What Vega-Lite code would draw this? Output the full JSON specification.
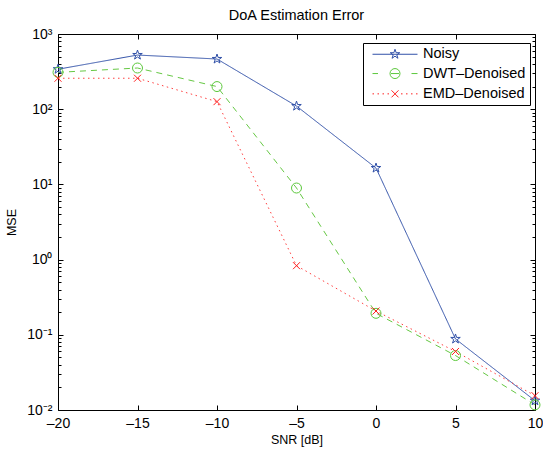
{
  "$schema": "https://vega.github.io/schema/vega-lite/v6.json",
  "width": 477,
  "height": 376,
  "autosize": {"type": "none"},
  "padding": {"left": 58, "top": 34, "right": 8, "bottom": 39},
  "background": "white",
  "config": {
    "view": {"stroke": null},
    "font": "Liberation Sans",
    "axis": {"domainColor": "black", "tickColor": "black", "labelColor": "black", "titleColor": "black", "grid": false, "labelFont": "Liberation Sans", "titleFont": "Liberation Sans", "titleFontWeight": "normal", "domainWidth": 1, "tickWidth": 1, "labelOverlap": false, "labelFlush": false}
  },
  "title": {"text": "DoA Estimation Error", "fontSize": 14.5, "fontWeight": "normal", "font": "Liberation Sans", "color": "black", "offset": 12, "dy": 19, "baseline": "alphabetic", "anchor": "middle", "frame": "group"},
  "data": {"values": [
    {"snr": -20, "mse": 340, "series": "Noisy"},
    {"snr": -15, "mse": 525, "series": "Noisy"},
    {"snr": -10, "mse": 465, "series": "Noisy"},
    {"snr": -5, "mse": 110, "series": "Noisy"},
    {"snr": 0, "mse": 16.5, "series": "Noisy"},
    {"snr": 5, "mse": 0.088, "series": "Noisy"},
    {"snr": 10, "mse": 0.0133, "series": "Noisy"},
    {"snr": -20, "mse": 309, "series": "DWT–Denoised"},
    {"snr": -15, "mse": 353, "series": "DWT–Denoised"},
    {"snr": -10, "mse": 200, "series": "DWT–Denoised"},
    {"snr": -5, "mse": 8.95, "series": "DWT–Denoised"},
    {"snr": 0, "mse": 0.193, "series": "DWT–Denoised"},
    {"snr": 5, "mse": 0.053, "series": "DWT–Denoised"},
    {"snr": 10, "mse": 0.0117, "series": "DWT–Denoised"},
    {"snr": -20, "mse": 258, "series": "EMD–Denoised"},
    {"snr": -15, "mse": 258, "series": "EMD–Denoised"},
    {"snr": -10, "mse": 126, "series": "EMD–Denoised"},
    {"snr": -5, "mse": 0.83, "series": "EMD–Denoised"},
    {"snr": 0, "mse": 0.207, "series": "EMD–Denoised"},
    {"snr": 5, "mse": 0.06, "series": "EMD–Denoised"},
    {"snr": 10, "mse": 0.0155, "series": "EMD–Denoised"}
  ]},
  "resolve": {"scale": {"color": "independent", "shape": "independent", "strokeDash": "independent"}, "axis": {"x": "independent", "y": "independent"}},
  "layer": [
    {
      "mark": {"type": "line", "strokeWidth": 1},
      "encoding": {
        "x": {"field": "snr", "type": "quantitative", "scale": {"domain": [-20, 10], "nice": false, "zero": false},
          "axis": {"orient": "bottom", "values": [-20, -15, -10, -5, 0, 5, 10], "tickSize": -5, "labelPadding": 11, "labelFontSize": 14, "labelExpr": "replace(datum.label, '−', '–')", "title": "SNR [dB]", "titleFontSize": 12.5, "titleY": 23, "titleBaseline": "top", "titleAlign": "center"}},
        "y": {"field": "mse", "type": "quantitative", "scale": {"type": "log", "domain": [0.01, 1000], "nice": false},
          "axis": {"orient": "left", "values": [0.01, 0.02, 0.03, 0.04, 0.05, 0.06, 0.07, 0.08, 0.09, 0.1, 0.2, 0.3, 0.4, 0.5, 0.6, 0.7, 0.8, 0.9, 1, 2, 3, 4, 5, 6, 7, 8, 9, 10, 20, 30, 40, 50, 60, 70, 80, 90, 100, 200, 300, 400, 500, 600, 700, 800, 900, 1000],
            "tickSize": {"condition": {"test": "abs(log(datum.value)/LN10 - round(log(datum.value)/LN10)) < 0.001", "value": -5}, "value": -3},
            "labelExpr": "abs(log(datum.value)/LN10 - round(log(datum.value)/LN10)) < 0.001 ? ['10⁻²','10⁻¹','10⁰','10¹','10²','10³'][round(log(datum.value)/LN10)+2] : ''",
            "labelPadding": 11, "labelFontSize": 14, "title": "MSE", "titleFontSize": 12.5, "titleX": -43, "titleY": 188, "titleAngle": 270, "titleBaseline": "alphabetic", "titleAlign": "center"}},
        "color": {"field": "series", "type": "nominal", "scale": {"domain": ["Noisy", "DWT–Denoised", "EMD–Denoised"], "range": ["#3050a8", "#66c844", "#ff4040"]}, "legend": null},
        "strokeDash": {"field": "series", "type": "nominal", "scale": {"domain": ["Noisy", "DWT–Denoised", "EMD–Denoised"], "range": [[1, 0], [6, 5], [1.5, 3.5]]}, "legend": null}
      }
    },
    {
      "mark": {"type": "point", "filled": false, "strokeWidth": 1, "size": 100, "opacity": 1},
      "encoding": {
        "x": {"field": "snr", "type": "quantitative", "scale": {"domain": [-20, 10], "nice": false, "zero": false}, "axis": null},
        "y": {"field": "mse", "type": "quantitative", "scale": {"type": "log", "domain": [0.01, 1000], "nice": false}, "axis": null},
        "color": {"field": "series", "type": "nominal", "scale": {"domain": ["Noisy", "DWT–Denoised", "EMD–Denoised"], "range": ["#3050a8", "#5cc83c", "#ff2020"]}, "legend": null},
        "shape": {"field": "series", "type": "nominal", "scale": {"domain": ["Noisy", "DWT–Denoised", "EMD–Denoised"], "range": [
          "M0,-1L0.225,-0.309L0.951,-0.309L0.363,0.118L0.588,0.809L0,0.382L-0.588,0.809L-0.363,0.118L-0.951,-0.309L-0.225,-0.309Z",
          "M1,0A1,1 0 1,1 -1,0A1,1 0 1,1 1,0Z",
          "M-0.7,-0.7L0.7,0.7M-0.7,0.7L0.7,-0.7"]}, "legend": null}
      }
    },
    {
      "transform": [{"filter": "false"}],
      "mark": {"type": "point", "filled": false, "strokeWidth": 1, "size": 100, "opacity": 1},
      "encoding": {
        "x": {"field": "snr", "type": "quantitative", "scale": {"domain": [-20, 10], "nice": false, "zero": false},
          "axis": {"orient": "top", "values": [-20, -15, -10, -5, 0, 5, 10], "tickSize": -5, "labels": false, "title": null}},
        "y": {"field": "mse", "type": "quantitative", "scale": {"type": "log", "domain": [0.01, 1000], "nice": false},
          "axis": {"orient": "right", "values": [0.01, 0.02, 0.03, 0.04, 0.05, 0.06, 0.07, 0.08, 0.09, 0.1, 0.2, 0.3, 0.4, 0.5, 0.6, 0.7, 0.8, 0.9, 1, 2, 3, 4, 5, 6, 7, 8, 9, 10, 20, 30, 40, 50, 60, 70, 80, 90, 100, 200, 300, 400, 500, 600, 700, 800, 900, 1000],
            "tickSize": {"condition": {"test": "abs(log(datum.value)/LN10 - round(log(datum.value)/LN10)) < 0.001", "value": -5}, "value": -3},
            "labels": false, "title": null}},
        "color": {"field": "series", "type": "nominal", "scale": {"domain": ["Noisy", "DWT–Denoised", "EMD–Denoised"], "range": ["#3050a8", "#5cc83c", "#ff2020"]},
          "legend": {"orient": "none", "legendX": 305, "legendY": 9, "title": null, "padding": 4, "strokeColor": "black", "fillColor": "white", "labelFontSize": 14.5, "labelFont": "Liberation Sans", "labelColor": "black", "symbolSize": 100, "symbolStrokeWidth": 1, "symbolOffset": 20.75, "labelOffset": 20.75, "rowPadding": 4.3, "symbolFillColor": "transparent", "symbolOpacity": 1}},
        "shape": {"field": "series", "type": "nominal", "scale": {"domain": ["Noisy", "DWT–Denoised", "EMD–Denoised"], "range": [
          "M-4.5,0L4.5,0M0,-1L0.225,-0.309L0.951,-0.309L0.363,0.118L0.588,0.809L0,0.382L-0.588,0.809L-0.363,0.118L-0.951,-0.309L-0.225,-0.309Z",
          "M-4.5,0L-3.4,0M-0.8,0L0.8,0M3.3,0L4.5,0M1,0A1,1 0 1,1 -1,0A1,1 0 1,1 1,0Z",
          "M-4.5,0L-4.2,0M-3.5,0L-3.2,0M-2.5,0L-2.2,0M-1.5,0L-1.2,0M1.2,0L1.5,0M2.2,0L2.5,0M3.2,0L3.5,0M4.2,0L4.5,0M-0.7,-0.7L0.7,0.7M-0.7,0.7L0.7,-0.7"]},
          "legend": {"orient": "none", "legendX": 305, "legendY": 9, "title": null, "padding": 4, "strokeColor": "black", "fillColor": "white", "labelFontSize": 14.5, "labelFont": "Liberation Sans", "labelColor": "black", "symbolSize": 100, "symbolStrokeWidth": 1, "symbolOffset": 20.75, "labelOffset": 20.75, "rowPadding": 4.3, "symbolFillColor": "transparent", "symbolOpacity": 1}}
      }
    }
  ]
}
